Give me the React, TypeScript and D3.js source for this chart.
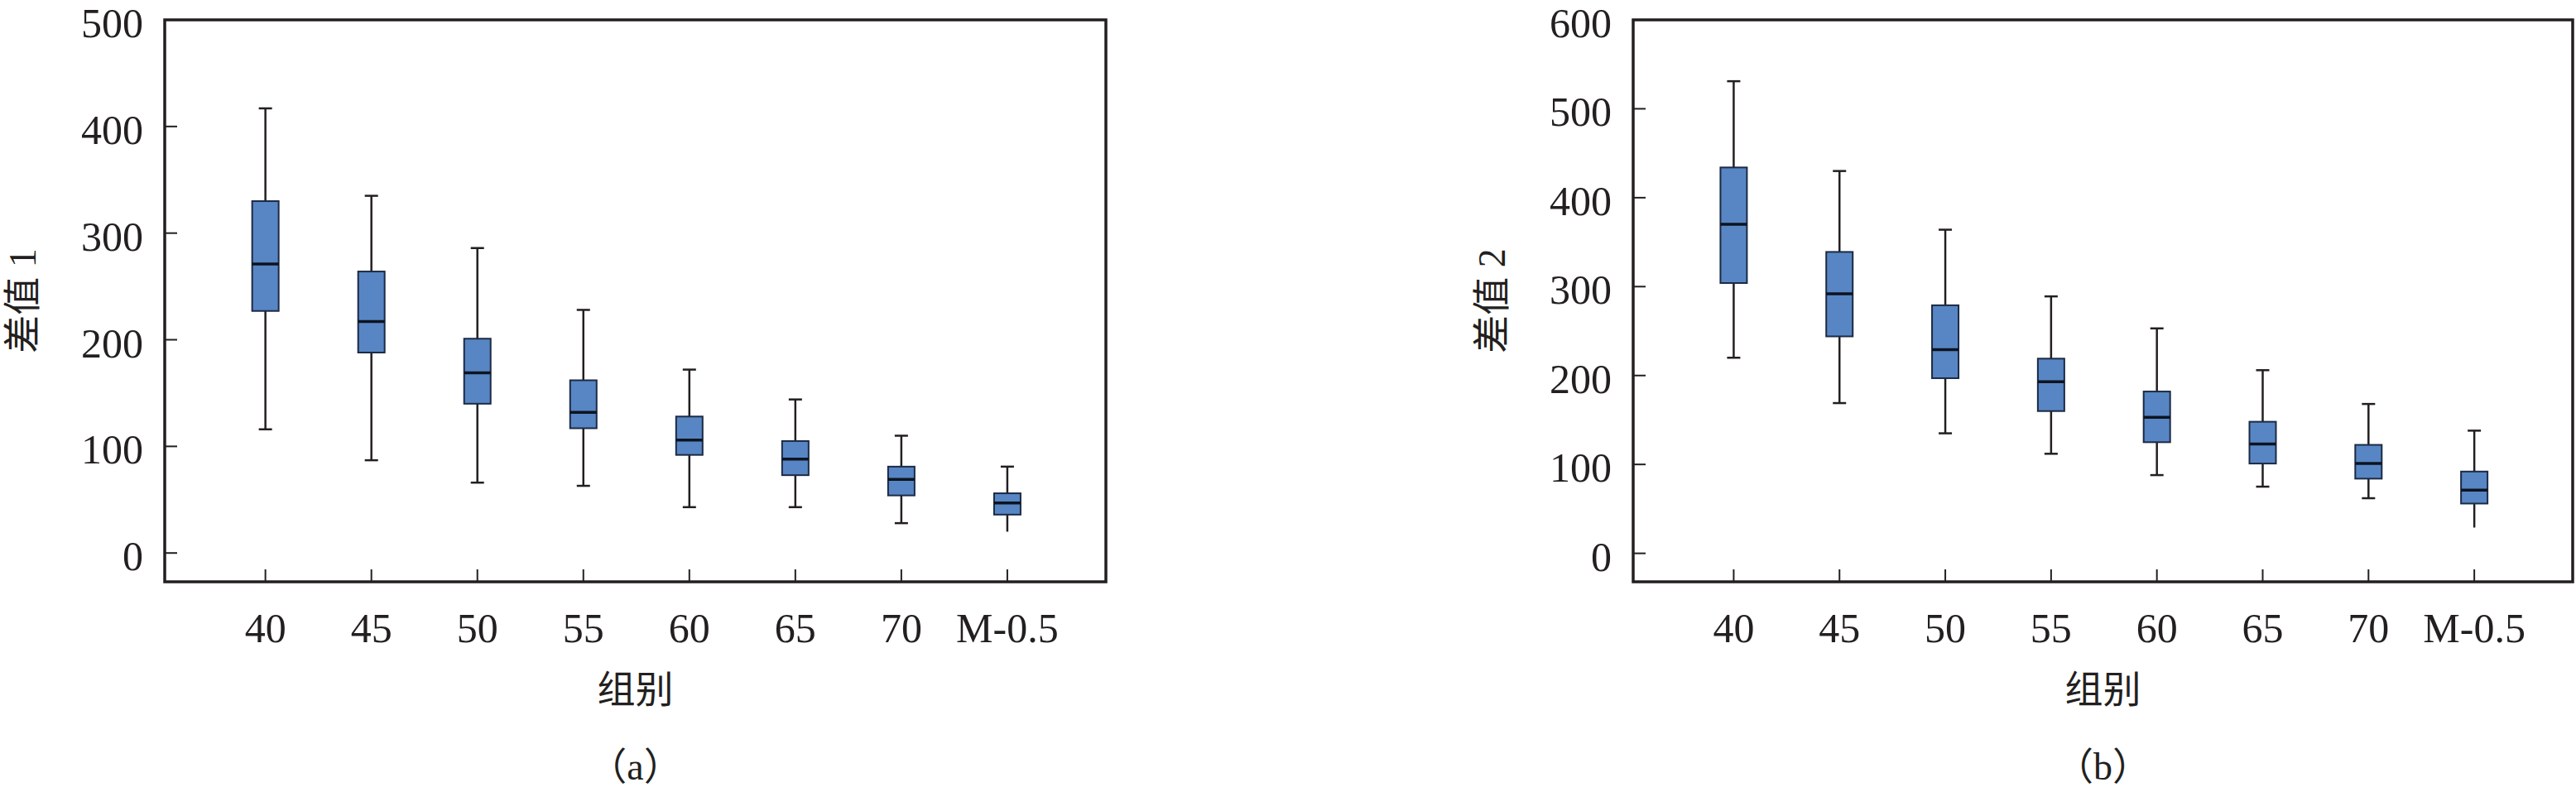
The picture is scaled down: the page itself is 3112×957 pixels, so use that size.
import React from "react";
import * as d3 from "d3";

const categories = ["40", "45", "50", "55", "60", "65", "70", "M-0.5"];

// Panel (a) 差值 1
const whiskerHighA = [417, 335, 286, 228, 172, 144, 110, 81];
const q3A = [330, 264, 201, 162, 128, 105, 81, 56];
const medianA = [271, 217, 169, 132, 106, 88, 69, 47];
const q1A = [227, 188, 140, 117, 92, 73, 54, 36];
const whiskerLowA = [116, 87, 66, 63, 43, 43, 28, 20];
const yTicksA = [0, 100, 200, 300, 400, 500];

// Panel (b) 差值 2
const whiskerHighB = [531, 430, 364, 289, 253, 206, 168, 138];
const q3B = [434, 339, 279, 219, 182, 148, 122, 92];
const medianB = [370, 292, 229, 193, 153, 123, 101, 71];
const q1B = [304, 244, 197, 160, 125, 101, 84, 56];
const whiskerLowB = [220, 169, 135, 112, 88, 75, 62, 29];
const yTicksB = [0, 100, 200, 300, 400, 500, 600];

// categories whose lower whisker has no cap
const noLowCap = ["M-0.5"];

const INK = "#231f20";
const FILL = "#5886c4";
const FONT = "'Liberation Serif', 'Times New Roman', serif";
const CJK = "'Liberation Serif', 'Noto Sans CJK SC', serif";

type PanelProps = {
  left: number;
  right: number;
  top: number;
  bottom: number;
  yDomain: [number, number];
  yTicks: number[];
  hi: number[];
  q3: number[];
  med: number[];
  q1: number[];
  lo: number[];
  yTitle: string;
  caption: string;
  yTitleX: number;
};

function Panel(p: PanelProps) {
  const x = d3.scaleLinear().domain([0.05, 8.93]).range([p.left, p.right]);
  const y = d3.scaleLinear().domain(p.yDomain).range([p.bottom, p.top]);
  const boxW = 32;
  const capW = 16;
  const cx = (p.left + p.right) / 2;
  const cy = (p.top + p.bottom) / 2;
  return (
    <g>
      {categories.map((c, i) => {
        const xc = x(i + 1);
        return (
          <g key={c}>
            <line x1={xc} x2={xc} y1={y(p.hi[i])} y2={y(p.q3[i])} stroke={INK} strokeWidth={2.5} />
            <line x1={xc} x2={xc} y1={y(p.q1[i])} y2={y(p.lo[i])} stroke={INK} strokeWidth={2.5} />
            <line x1={xc - capW / 2} x2={xc + capW / 2} y1={y(p.hi[i])} y2={y(p.hi[i])} stroke={INK} strokeWidth={2.5} />
            {noLowCap.includes(c) ? null : (
              <line x1={xc - capW / 2} x2={xc + capW / 2} y1={y(p.lo[i])} y2={y(p.lo[i])} stroke={INK} strokeWidth={2.5} />
            )}
            <rect
              x={xc - boxW / 2}
              y={y(p.q3[i])}
              width={boxW}
              height={y(p.q1[i]) - y(p.q3[i])}
              fill={FILL}
              stroke="#1c2a44"
              strokeWidth={2}
            />
            <line x1={xc - boxW / 2} x2={xc + boxW / 2} y1={y(p.med[i])} y2={y(p.med[i])} stroke="#0d1420" strokeWidth={3.5} />
            <line x1={xc} x2={xc} y1={p.bottom} y2={p.bottom - 15} stroke={INK} strokeWidth={2} />
            <text x={xc} y={p.bottom + 55} dy="0.35em" textAnchor="middle" fontFamily={FONT} fontSize={50} fill={INK}>
              {c}
            </text>
          </g>
        );
      })}
      {p.yTicks.map((t) => (
        <g key={t}>
          <line x1={p.left} x2={p.left + 15} y1={y(t)} y2={y(t)} stroke={INK} strokeWidth={2} />
          <text x={p.left - 26} y={y(t)} dy="0.42em" textAnchor="end" fontFamily={FONT} fontSize={50} fill={INK}>
            {t}
          </text>
        </g>
      ))}
      <rect x={p.left} y={p.top} width={p.right - p.left} height={p.bottom - p.top} fill="none" stroke={INK} strokeWidth={3.5} />
      <text
        transform={`translate(${p.yTitleX},${cy}) rotate(-90)`}
        textAnchor="middle"
        dy="0.35em"
        fontFamily={CJK}
        fontSize={46}
        fill={INK}
      >
        {p.yTitle}
      </text>
      <text x={cx} y={833} dy="0.35em" textAnchor="middle" fontFamily={CJK} fontSize={46} fill={INK}>
        组别
      </text>
      <text x={cx} y={926} dy="0.35em" textAnchor="middle" fontFamily={CJK} fontSize={46} fill={INK}>
        {p.caption}
      </text>
    </g>
  );
}

export default function App() {
  return (
    <svg
      width={3112}
      height={957}
      viewBox="0 0 3112 957"
      style={{ position: "absolute", left: 0, top: 0, background: "#fff" }}
    >
      <rect x={0} y={0} width={3112} height={957} fill="#fff" />
      <Panel
        left={199}
        right={1336}
        top={24}
        bottom={703}
        yDomain={[-27, 500]}
        yTicks={yTicksA}
        hi={whiskerHighA}
        q3={q3A}
        med={medianA}
        q1={q1A}
        lo={whiskerLowA}
        yTitle="差值 1"
        caption="（a）"
        yTitleX={27}
      />
      <Panel
        left={1973}
        right={3108}
        top={24}
        bottom={703}
        yDomain={[-32, 600]}
        yTicks={yTicksB}
        hi={whiskerHighB}
        q3={q3B}
        med={medianB}
        q1={q1B}
        lo={whiskerLowB}
        yTitle="差值 2"
        caption="（b）"
        yTitleX={1802}
      />
    </svg>
  );
}
